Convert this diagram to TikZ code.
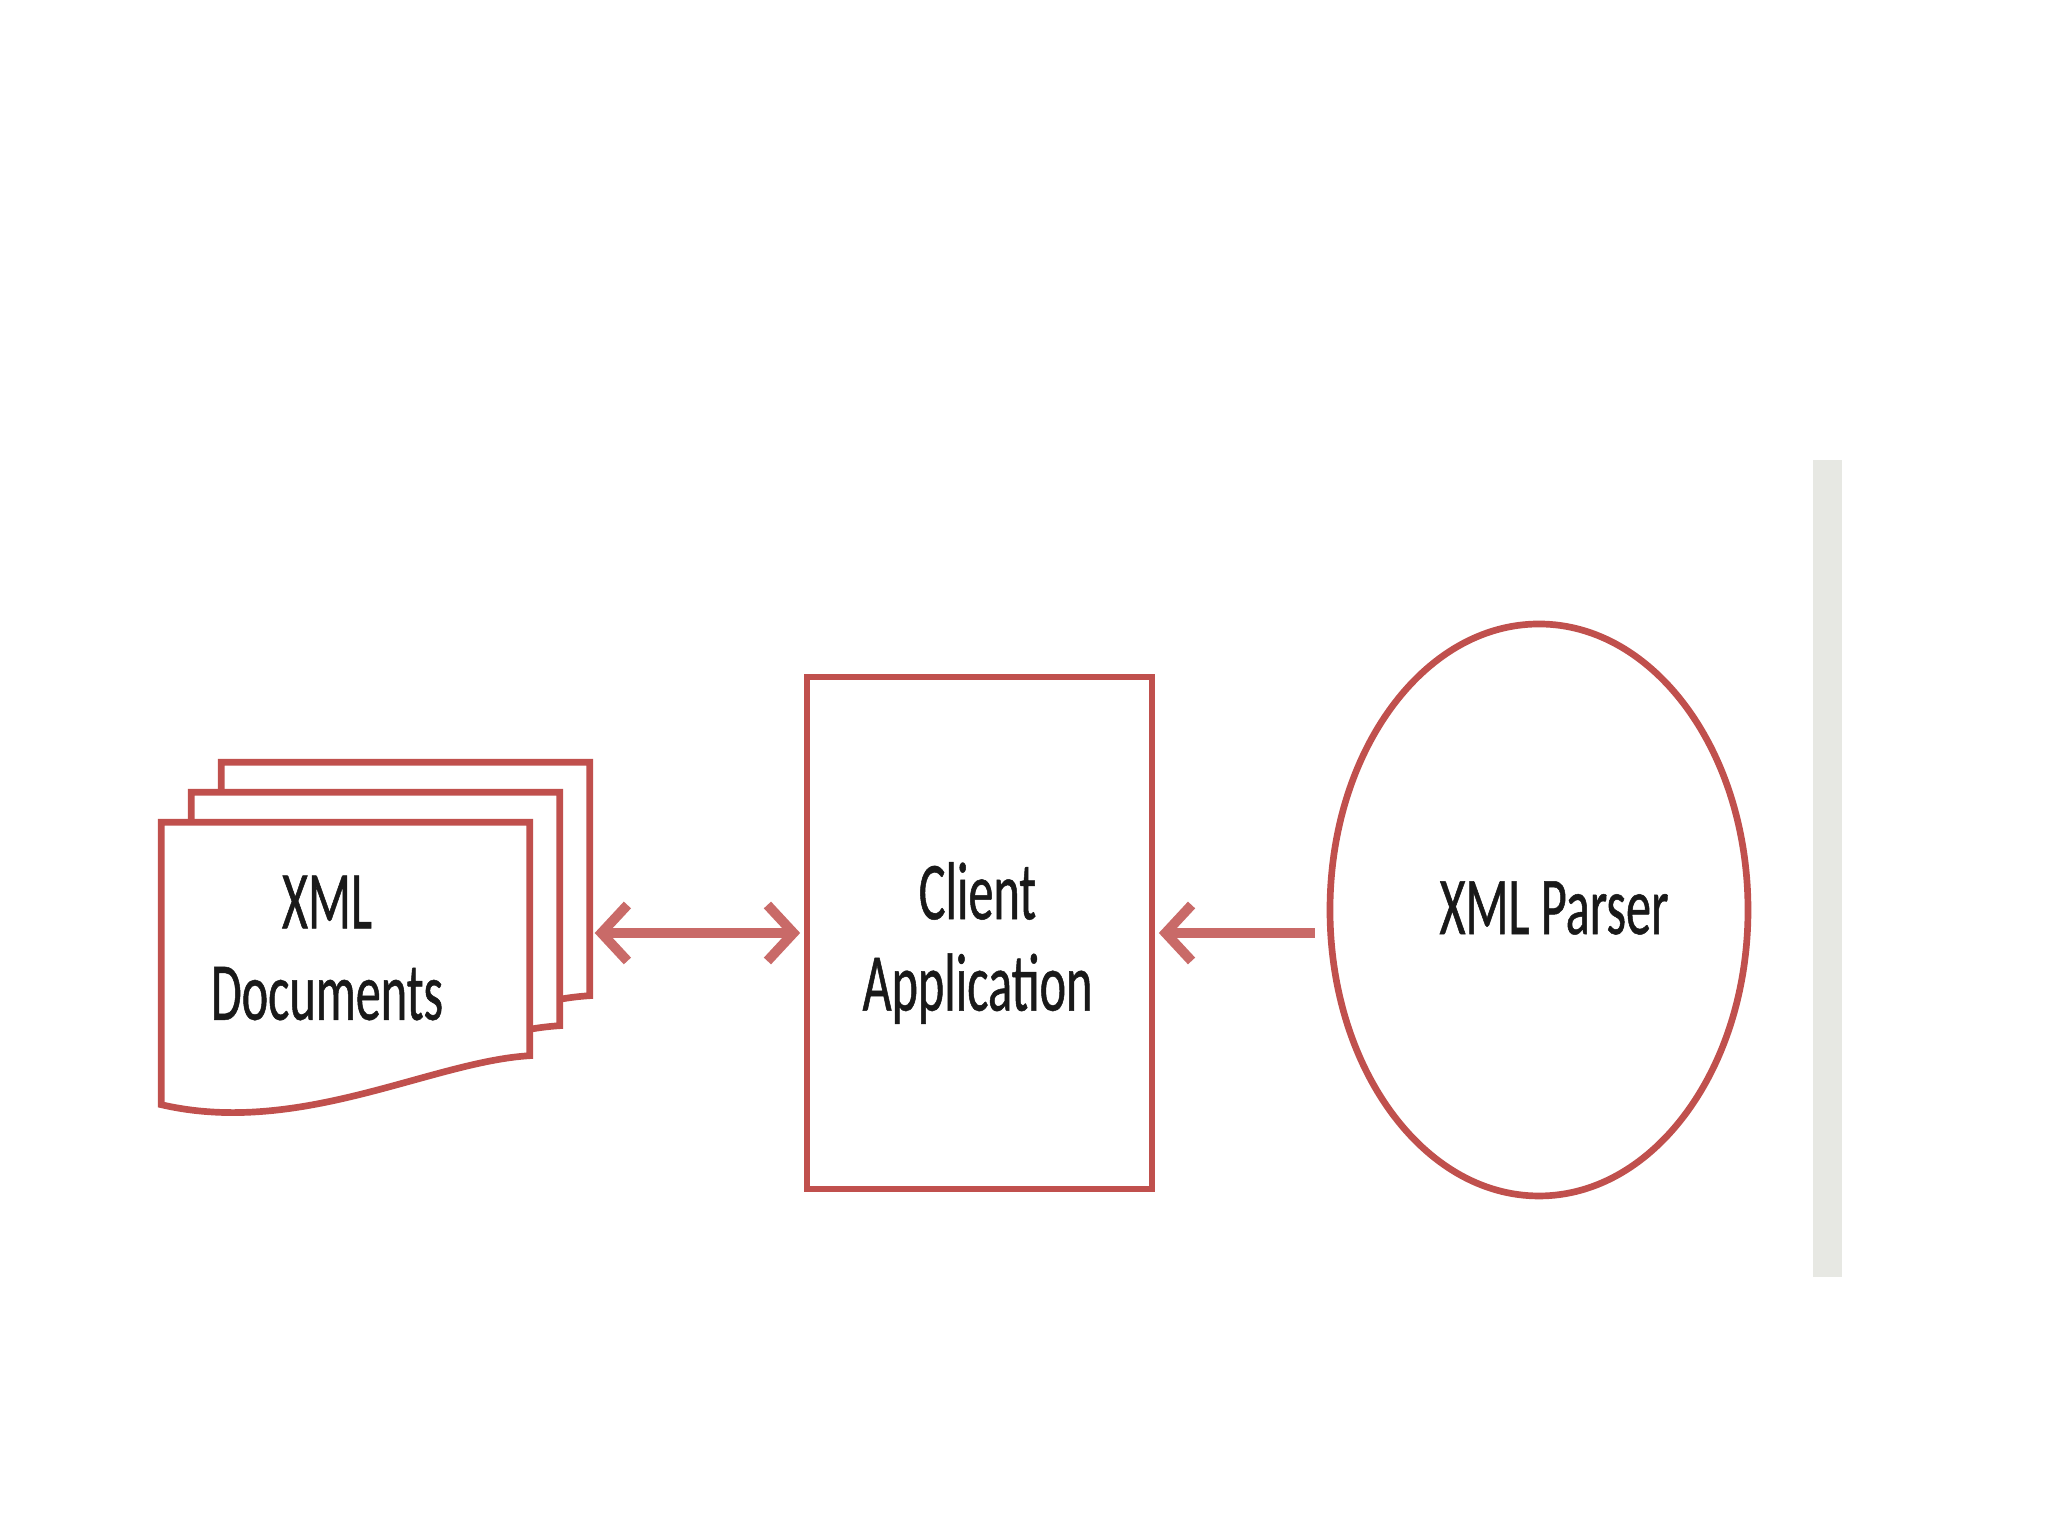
\documentclass[tikz,border=0pt]{standalone}
\usepackage{fontspec}
\usetikzlibrary{shapes.geometric, arrows.meta, positioning, calc}
\newfontfamily\cfont[FakeStretch=0.61, FakeBold=0.6]{Carlito}
\definecolor{xred}{HTML}{C0504D}
\definecolor{barcol}{RGB}{231,232,227}
\tikzset{
  xtip/.tip = {Straight Barb[length=2.6mm, width=5.6mm]},
  xsh/.style = {draw=none, fill=white, minimum width=3.67cm,
    minimum height=2.81cm, inner sep=0pt},
  xln/.style = {draw=xred, fill=white, line width=1.9pt},
  xbox/.style = {draw=xred, fill=white, line width=1.9pt, minimum width=3.45cm,
    minimum height=5.12cm, inner sep=0pt},
  xell/.style = {ellipse, draw=xred, fill=white, line width=1.9pt,
    minimum width=4.18cm, minimum height=5.72cm, inner sep=0pt},
  xtxt/.style = {font=\cfont\fontsize{23.4}{26}\selectfont, align=center,
    text=black!90},
  xar/.style = {draw=xred!85!white, line width=2.8pt, -xtip, shorten >=1pt},
  xbi/.style = {draw=xred!85!white, line width=2.8pt, xtip-xtip,
    shorten >=1pt, shorten <=0.5mm}
}

\begin{document}
\begin{tikzpicture}
  \fill [white] (0,0) rectangle (20.48,15.36);
  \useasboundingbox (0,0) rectangle (20.48,15.36);
  \fill [barcol] (18.13,2.59) rectangle (18.42,10.76);
  \foreach \i in {2,1,0} {
    \node [xsh] (sh\i) at ({3.455+0.3*\i},{5.725+0.3*\i}) {};
    \draw [xln] (sh\i.north west) -- (sh\i.north east)
      -- ($(sh\i.south east)+(0,0.49)$)
      .. controls ($(sh\i.south east)+(-0.99,0.43)$) and ($(sh\i.south west)+(1.38,-0.32)$)
      .. (sh\i.south west) -- cycle;
  }
  \node [xtxt] (dt) at (3.27,5.88) {XML\\Documents};
  \node [xbox] (cl) at (9.795,6.03) {};
  \node [xtxt] (clt) at ($(cl.center)+(-0.02,-0.1)$) {Client\\Application};
  \node [xell] (ep) at (15.39,6.26) {};
  \node [xtxt] (ept) at ($(ep.center)+(0.15,0.02)$) {XML Parser};
  \draw [xbi] (sh2.east |- cl.west) -- (cl.west);
  \draw [xar, shorten <=1.2mm] (ep.west |- cl.east) -- (cl.east);
\end{tikzpicture}
\end{document}
